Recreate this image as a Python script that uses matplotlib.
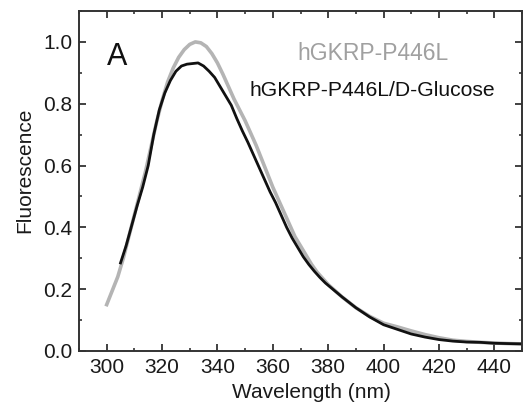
import matplotlib
matplotlib.use("Agg")
import matplotlib.pyplot as plt
from matplotlib.ticker import MultipleLocator

plt.rcParams['font.family'] = ['Liberation Sans', 'DejaVu Sans']

# Data
wl_p446l = [300, 302, 304, 306, 308, 310, 312, 314, 316, 318, 320, 322, 324, 326, 328,
            330, 332, 334, 336, 338, 340, 342, 344, 346, 348, 350, 352, 354, 356, 358,
            360, 362, 364, 366, 368, 370, 372, 374, 376, 378, 380, 385, 390, 395, 400,
            405, 410, 415, 420, 425, 430, 435, 440, 445, 450]
fl_p446l = [0.15, 0.195, 0.24, 0.30, 0.37, 0.44, 0.51, 0.58, 0.66, 0.74, 0.81, 0.87, 0.915,
            0.95, 0.975, 0.992, 1.0, 0.997, 0.985, 0.962, 0.932, 0.895, 0.855, 0.815, 0.78,
            0.745, 0.705, 0.665, 0.62, 0.575, 0.53, 0.49, 0.45, 0.41, 0.37, 0.34, 0.31,
            0.28, 0.255, 0.235, 0.215, 0.175, 0.14, 0.112, 0.09, 0.078, 0.065, 0.053,
            0.043, 0.035, 0.031, 0.028, 0.026, 0.024, 0.023]

wl_glucose = [305, 307, 309, 311, 313, 315, 317, 319, 321, 323, 325, 327, 329, 331, 333,
              335, 337, 339, 341, 343, 345, 347, 349, 351, 353, 355, 357, 359, 361, 363,
              365, 367, 369, 371, 373, 375, 377, 379, 381, 385, 390, 395, 400, 405, 410,
              415, 420, 425, 430, 435, 440, 445, 450]
fl_glucose = [0.285, 0.34, 0.405, 0.47, 0.53, 0.60, 0.70, 0.78, 0.835, 0.875, 0.905, 0.922,
              0.928, 0.93, 0.932, 0.922, 0.905, 0.885, 0.855, 0.825, 0.795, 0.752, 0.712,
              0.675, 0.635, 0.595, 0.555, 0.515, 0.48, 0.44, 0.40, 0.365, 0.335, 0.305,
              0.28, 0.258, 0.238, 0.22, 0.205, 0.175, 0.14, 0.11, 0.085, 0.07, 0.055, 0.045,
              0.037, 0.032, 0.029, 0.028, 0.025, 0.024, 0.023]

label_p446l = "hGKRP-P446L"
label_glucose = "hGKRP-P446L/D-Glucose"
panel_label = "A"

fig = plt.figure(figsize=(5.23, 4.08), dpi=100)
ax = fig.add_axes([79/523, 1 - 351/408, 443/523, 340/408])

ax.plot(wl_p446l, fl_p446l, color='#b4b4b4', lw=2.6, solid_joinstyle='round')
ax.plot(wl_glucose, fl_glucose, color='#111111', lw=2.0, solid_joinstyle='round')

ax.set_xlim(290, 450)
ax.set_ylim(0, 1.1)
ax.xaxis.set_major_locator(MultipleLocator(20))
ax.xaxis.set_minor_locator(MultipleLocator(10))
ax.yaxis.set_major_locator(MultipleLocator(0.2))
ax.yaxis.set_minor_locator(MultipleLocator(0.1))
ax.set_xticks([300, 320, 340, 360, 380, 400, 420, 440])
ax.yaxis.set_major_formatter(matplotlib.ticker.FormatStrFormatter('%.1f'))

for s in ax.spines.values():
    s.set_color('#333333')
    s.set_linewidth(1.4)

ax.tick_params(which='both', direction='in', top=True, right=True, color='#333333',
               labelsize=15, labelcolor='#1a1a1a')
ax.tick_params(which='major', length=5, width=1.3)
ax.tick_params(which='minor', length=2.5, width=1.2)
ax.tick_params(axis='y', pad=5)
ax.tick_params(axis='x', pad=5)

ax.set_xlabel("Wavelength (nm)", fontsize=15, color='#1a1a1a')
ax.set_ylabel("Fluorescence", fontsize=15, color='#1a1a1a')
ax.xaxis.set_label_coords(0.524, -0.093)
ax.yaxis.set_label_coords(-0.10, 0.53)

ax.text(300, 0.926, panel_label, fontsize=22, color='#111111', ha='left', va='baseline')
ax.text(368.8, 0.942, label_p446l, fontsize=16.5, color='#a0a0a0', ha='left', va='baseline')
ax.text(351.4, 0.825, label_glucose, fontsize=15.2, color='#111111', ha='left', va='baseline')

fig.savefig("out.png", dpi=100)
